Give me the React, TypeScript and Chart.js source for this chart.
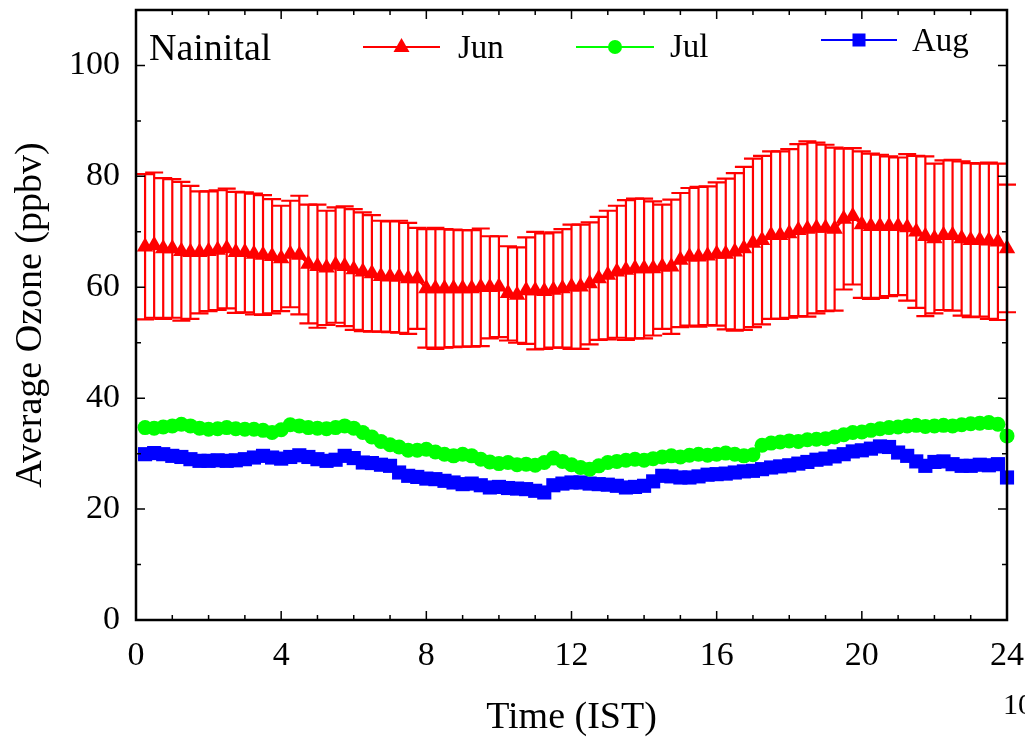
import React, { useEffect, useRef } from 'react';
import { Chart, registerables } from 'chart.js';

Chart.register(...registerables);

// ---- data ----
const timeHours = [
  0.25, 0.5, 0.75, 1, 1.25, 1.5, 1.75, 2, 2.25, 2.5, 2.75, 3, 3.25, 3.5, 3.75, 4, 4.25, 4.5, 4.75, 5, 5.25, 5.5, 5.75, 6,
  6.25, 6.5, 6.75, 7, 7.25, 7.5, 7.75, 8, 8.25, 8.5, 8.75, 9, 9.25, 9.5, 9.75, 10, 10.25, 10.5, 10.75, 11, 11.25, 11.5, 11.75, 12,
  12.25, 12.5, 12.75, 13, 13.25, 13.5, 13.75, 14, 14.25, 14.5, 14.75, 15, 15.25, 15.5, 15.75, 16, 16.25, 16.5, 16.75, 17, 17.25, 17.5, 17.75, 18,
  18.25, 18.5, 18.75, 19, 19.25, 19.5, 19.75, 20, 20.25, 20.5, 20.75, 21, 21.25, 21.5, 21.75, 22, 22.25, 22.5, 22.75, 23, 23.25, 23.5, 23.75, 24,
];

const junMean = [
  67.3, 67.6, 67.0, 67.0, 66.5, 66.3, 66.3, 66.5, 66.7, 67.0, 66.3, 66.3, 66.0, 65.8, 65.6, 65.2, 66.0, 65.8, 64.2, 63.8, 63.5, 64.0, 63.8, 63.2,
  62.8, 62.5, 62.0, 61.9, 61.9, 61.6, 61.6, 59.8, 59.8, 59.8, 59.8, 59.8, 59.8, 60.0, 60.0, 60.1, 58.9, 58.6, 59.4, 59.4, 59.3, 59.5, 59.8, 60.1,
  60.1, 60.7, 61.6, 62.2, 62.8, 63.1, 63.4, 63.4, 63.4, 63.7, 63.7, 64.9, 65.5, 65.5, 65.7, 66.0, 66.0, 66.4, 67.0, 68.0, 68.5, 69.4, 69.4, 69.7,
  70.3, 70.5, 70.7, 70.7, 70.5, 72.3, 72.8, 71.3, 71.0, 71.0, 71.0, 71.0, 70.8, 70.0, 69.2, 68.8, 69.4, 69.4, 68.8, 68.5, 68.5, 68.4, 68.2, 67.0,
];

const junSD = [
  13.1, 13.1, 12.7, 12.5, 12.5, 12.0, 11.0, 10.8, 10.8, 10.8, 10.9, 10.8, 10.9, 10.8, 10.3, 9.5, 9.6, 10.7, 10.7, 11.1, 10.3, 10.4, 10.8, 10.9,
  10.7, 10.5, 10.0, 10.0, 10.1, 10.0, 9.1, 10.7, 10.9, 10.7, 10.6, 10.5, 10.5, 10.6, 9.2, 9.1, 8.5, 8.6, 9.6, 10.6, 10.4, 10.4, 10.7, 11.2,
  11.2, 11.0, 11.1, 11.6, 11.9, 12.6, 12.6, 12.6, 12.1, 11.2, 12.1, 12.1, 12.4, 12.6, 12.5, 12.9, 13.6, 14.2, 14.7, 15.2, 15.2, 15.1, 15.1, 15.2,
  15.5, 15.8, 15.4, 15.0, 14.7, 12.7, 12.3, 13.2, 13.1, 12.9, 12.6, 12.4, 13.2, 13.7, 14.4, 13.5, 13.5, 13.6, 13.9, 13.9, 13.8, 14.1, 14.1, 11.5,
];

const julMean = [
  34.7, 34.6, 34.8, 35.0, 35.3, 35.0, 34.6, 34.4, 34.5, 34.7, 34.5, 34.4, 34.4, 34.2, 33.8, 34.3, 35.2, 35.0, 34.7, 34.6, 34.5, 34.7, 35.0, 34.6,
  33.8, 33.0, 32.2, 31.6, 31.2, 30.6, 30.6, 30.8, 30.3, 29.9, 29.6, 29.9, 29.6, 29.0, 28.5, 28.2, 28.4, 28.0, 28.1, 27.9, 28.4, 29.2, 28.6, 28.0,
  27.5, 27.2, 27.8, 28.4, 28.6, 28.8, 29.0, 28.8, 29.1, 29.4, 29.6, 29.4, 29.7, 29.9, 29.7, 29.9, 30.1, 29.9, 29.6, 29.8, 31.5, 31.9, 32.1, 32.3,
  32.2, 32.5, 32.6, 32.7, 33.0, 33.4, 33.8, 33.9, 34.2, 34.5, 34.7, 34.8, 35.0, 35.1, 34.9, 35.0, 35.1, 35.0, 35.2, 35.4, 35.5, 35.6, 35.3, 33.2,
];

const augMean = [
  29.9, 30.1, 29.9, 29.6, 29.4, 29.0, 28.7, 28.7, 28.8, 28.7, 28.8, 29.0, 29.3, 29.6, 29.3, 29.1, 29.4, 29.7, 29.4, 29.0, 28.7, 28.9, 29.6, 29.2,
  28.4, 28.3, 28.0, 27.8, 26.6, 26.0, 25.8, 25.5, 25.4, 25.1, 24.8, 24.5, 24.6, 24.3, 23.9, 24.0, 23.8, 23.7, 23.6, 23.3, 23.0, 24.3, 24.6, 24.8,
  24.8, 24.6, 24.5, 24.4, 24.2, 23.9, 24.0, 24.2, 25.0, 26.0, 25.9, 25.7, 25.7, 25.9, 26.2, 26.3, 26.4, 26.6, 26.8, 26.9, 27.2, 27.5, 27.7, 27.9,
  28.2, 28.5, 28.9, 29.1, 29.5, 29.9, 30.4, 30.6, 30.9, 31.3, 31.2, 30.2, 29.6, 28.6, 27.8, 28.5, 28.6, 28.1, 27.8, 27.8, 28.0, 27.9, 28.1, 25.7,
];

const seriesNames = ['Jun', 'Jul', 'Aug'];
const stationLabel = 'Nainital';
const xTickValues = [0, 4, 8, 12, 16, 20, 24];
const yTickValues = [0, 20, 40, 60, 80, 100];
const xTitle = 'Time (IST)';
const yTitle = 'Average Ozone (ppbv)';
const cornerText = '10';

const RED = '#ff0000';
const GREEN = '#00ff00';
const BLUE = '#0000ff';
const FONT = '"Liberation Serif", "Times New Roman", serif';

function drawMarker(ctx: CanvasRenderingContext2D, style: string, x: number, y: number, color: string) {
  ctx.fillStyle = color;
  ctx.beginPath();
  if (style === 'triangle') {
    ctx.moveTo(x, y - 9);
    ctx.lineTo(x + 8, y + 5);
    ctx.lineTo(x - 8, y + 5);
    ctx.closePath();
    ctx.fill();
  } else if (style === 'circle') {
    ctx.arc(x, y, 7, 0, Math.PI * 2);
    ctx.fill();
  } else {
    ctx.fillRect(x - 6.5, y - 6.5, 13, 13);
  }
}

const errorBarPlugin = {
  id: 'errorBars',
  beforeDatasetsDraw(chart: any) {
    const { ctx } = chart;
    const xs = chart.scales.x;
    const ys = chart.scales.y;
    ctx.save();
    ctx.strokeStyle = RED;
    ctx.lineWidth = 2.2;
    for (let i = 0; i < timeHours.length; i++) {
      const x = xs.getPixelForValue(timeHours[i]);
      const yt = ys.getPixelForValue(junMean[i] + junSD[i]);
      const yb = ys.getPixelForValue(junMean[i] - junSD[i]);
      ctx.beginPath();
      ctx.moveTo(x, yt);
      ctx.lineTo(x, yb);
      ctx.moveTo(x - 9, yt);
      ctx.lineTo(x + 9, yt);
      ctx.moveTo(x - 9, yb);
      ctx.lineTo(x + 9, yb);
      ctx.stroke();
    }
    ctx.restore();
  },
};

const framePlugin = {
  id: 'frameTicks',
  afterDatasetsDraw(chart: any) {
    const { ctx, chartArea } = chart;
    const { left, right, top, bottom } = chartArea;
    const xs = chart.scales.x;
    const ys = chart.scales.y;
    ctx.save();
    ctx.strokeStyle = '#000';
    ctx.lineWidth = 1.5;
    ctx.beginPath();
    for (let v = xs.min; v <= xs.max; v += 1) {
      const x = xs.getPixelForValue(v);
      const len = v % 4 === 0 ? 9 : 5;
      ctx.moveTo(x, bottom);
      ctx.lineTo(x, bottom - len);
      ctx.moveTo(x, top);
      ctx.lineTo(x, top + len);
    }
    for (let v = 0; v <= ys.max; v += 10) {
      const y = ys.getPixelForValue(v);
      const len = v % 20 === 0 ? 9 : 5;
      ctx.moveTo(left, y);
      ctx.lineTo(left + len, y);
      ctx.moveTo(right, y);
      ctx.lineTo(right - len, y);
    }
    ctx.stroke();
    ctx.lineWidth = 2.5;
    ctx.strokeRect(left, top, right - left, bottom - top);
    ctx.restore();
  },
};

const legendPlugin = {
  id: 'customLegend',
  afterDraw(chart: any) {
    const { ctx } = chart;
    ctx.save();
    ctx.fillStyle = '#000';
    ctx.textBaseline = 'middle';
    ctx.textAlign = 'left';
    ctx.font = `38px ${FONT}`;
    ctx.fillText(stationLabel, 149, 50);

    const entries = [
      { label: seriesNames[0], color: RED, style: 'triangle', x0: 363, x1: 440, y: 47, tx: 458, ty: 49 },
      { label: seriesNames[1], color: GREEN, style: 'circle', x0: 576, x1: 654, y: 47, tx: 670, ty: 48 },
      { label: seriesNames[2], color: BLUE, style: 'rect', x0: 821, x1: 897, y: 40, tx: 912, ty: 42 },
    ];
    ctx.font = `33px ${FONT}`;
    for (const e of entries) {
      ctx.strokeStyle = e.color;
      ctx.lineWidth = 2;
      ctx.beginPath();
      ctx.moveTo(e.x0, e.y);
      ctx.lineTo(e.x1, e.y);
      ctx.stroke();
      drawMarker(ctx, e.style, (e.x0 + e.x1) / 2, e.y, e.color);
      ctx.fillStyle = '#000';
      ctx.fillText(e.label, e.tx, e.ty);
    }
    ctx.font = `30px ${FONT}`;
    ctx.fillText(cornerText, 1003, 706);
    ctx.restore();
  },
};

export default function App() {
  const canvasRef = useRef<HTMLCanvasElement | null>(null);

  useEffect(() => {
    const canvas = canvasRef.current;
    if (!canvas) return;
    const mk = (arr: number[]) => timeHours.map((t, i) => ({ x: t, y: arr[i] }));
    const chart = new Chart(canvas, {
      type: 'line',
      data: {
        datasets: [
          {
            label: seriesNames[0],
            data: mk(junMean),
            borderColor: RED,
            backgroundColor: RED,
            borderWidth: 2.5,
            pointStyle: 'triangle',
            pointRadius: 9.5,
            pointBorderWidth: 0,
            pointBackgroundColor: RED,
            clip: false as any,
          },
          {
            label: seriesNames[1],
            data: mk(julMean),
            borderColor: GREEN,
            backgroundColor: GREEN,
            borderWidth: 2.5,
            pointStyle: 'circle',
            pointRadius: 7.5,
            pointBorderWidth: 0,
            pointBackgroundColor: GREEN,
            clip: false as any,
          },
          {
            label: seriesNames[2],
            data: mk(augMean),
            borderColor: BLUE,
            backgroundColor: BLUE,
            borderWidth: 2.5,
            pointStyle: 'rect',
            pointRadius: 10,
            pointBorderWidth: 0,
            pointBackgroundColor: BLUE,
            clip: false as any,
          },
        ],
      },
      options: {
        responsive: false,
        animation: false,
        events: [],
        layout: { padding: { left: 0, top: 8, right: 18, bottom: 0 } },
        plugins: { legend: { display: false }, tooltip: { enabled: false } },
        scales: {
          x: {
            type: 'linear',
            min: 0,
            max: 24,
            grid: { display: false, drawTicks: false },
            border: { display: false },
            afterBuildTicks: (s: any) => {
              s.ticks = xTickValues.map((v) => ({ value: v }));
            },
            afterFit: (s: any) => {
              s.height = 123;
              s.paddingLeft = 0;
              s.paddingRight = 0;
            },
            ticks: {
              color: '#000',
              font: { family: FONT, size: 34 },
              padding: 16,
              maxRotation: 0,
              autoSkip: false,
            },
            title: {
              display: true,
              text: xTitle,
              color: '#000',
              font: { family: FONT, size: 38 },
              padding: { top: 0, bottom: 2 },
            },
          },
          y: {
            type: 'linear',
            min: 0,
            max: 110,
            grid: { display: false, drawTicks: false },
            border: { display: false },
            afterBuildTicks: (s: any) => {
              s.ticks = yTickValues.map((v) => ({ value: v }));
            },
            afterFit: (s: any) => {
              s.width = 136;
              s.paddingTop = 0;
              s.paddingBottom = 0;
            },
            ticks: {
              color: '#000',
              font: { family: FONT, size: 34 },
              padding: 16,
              autoSkip: false,
            },
            title: {
              display: true,
              text: yTitle,
              color: '#000',
              font: { family: FONT, size: 38 },
              padding: { top: 8, bottom: 0 },
            },
          },
        },
      } as any,
      plugins: [errorBarPlugin, framePlugin, legendPlugin],
    });
    return () => chart.destroy();
  }, []);

  return (
    <div style={{ position: 'fixed', left: 0, top: 0, width: 1025, height: 743, background: '#fff' }}>
      <canvas ref={canvasRef} width={1025} height={743} style={{ width: 1025, height: 743, display: 'block' }} />
    </div>
  );
}
